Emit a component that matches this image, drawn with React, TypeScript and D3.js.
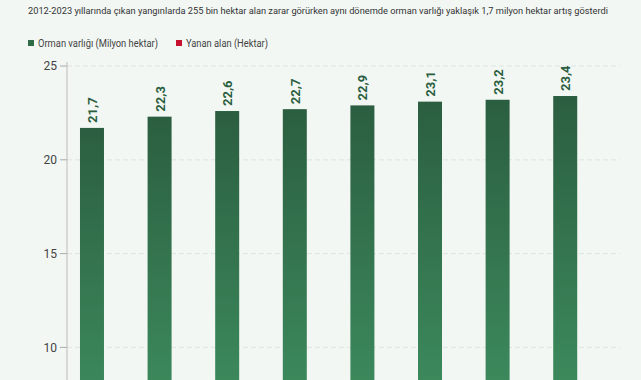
import React from "react";
import * as d3 from "d3";

const title =
  "2012-2023 yıllarında çıkan yangınlarda 255 bin hektar alan zarar görürken aynı dönemde orman varlığı yaklaşık 1,7 milyon hektar artış gösterdi";
const years = ["2016", "2017", "2018", "2019", "2020", "2021", "2022", "2023"];
const forest = [21.7, 22.3, 22.6, 22.7, 22.9, 23.1, 23.2, 23.4];
const yTicks = [10, 15, 20, 25];
const legendItems = [
  { label: "Orman varlığı (Milyon hektar)", color: "#2f6b47", x: 28, w: 120 },
  { label: "Yanan alan (Hektar)", color: "#c8102e", x: 176, w: 82 },
];

const W = 641;
const H = 380;
const FONT = "Roboto, 'Noto Sans', sans-serif";

export default function App() {
  const x = d3
    .scaleBand<string>()
    .domain(years)
    .range([67, 590.2])
    .paddingInner(0.645)
    .paddingOuter(0.192);
  const y = d3.scaleLinear().domain([0, 25]).range([535, 66]);
  const fmt = (v: number) => v.toFixed(1).replace(".", ",");
  return (
    <svg
      width={W}
      height={H}
      style={{ position: "fixed", left: 0, top: 0, background: "#f2f7f3" }}
    >
      <defs>
        <linearGradient id="barGrad" x1="0" y1="0" x2="0" y2="1">
          <stop offset="0" stopColor="#2b5e40" />
          <stop offset="1" stopColor="#45a06b" />
        </linearGradient>
      </defs>
      <rect width={W} height={H} fill="#f2f7f3" />
      <text
        x={28}
        y={14}
        fontFamily={FONT}
        fontSize={9.5}
        fill="#333"
        textLength={580}
        lengthAdjust="spacingAndGlyphs"
      >
        {title}
      </text>
      {legendItems.map((d) => (
        <g key={d.label} transform={`translate(${d.x},43)`}>
          <rect x={0} y={-3} width={6} height={6} fill={d.color} />
          <text
            x={10}
            y={3.5}
            fontFamily={FONT}
            fontSize={10}
            fill="#444"
            textLength={d.w}
            lengthAdjust="spacingAndGlyphs"
          >
            {d.label}
          </text>
        </g>
      ))}
      {yTicks.map((t) => (
        <g key={t} transform={`translate(0,${y(t)})`}>
          <line x1={67} x2={620} stroke="#dce5df" strokeDasharray="5,3" />
          <line x1={60} x2={67} stroke="#aaa" />
          <text x={57} dy="0.35em" textAnchor="end" fontFamily={FONT} fontSize={12} fill="#444">
            {t}
          </text>
        </g>
      ))}
      <line x1={67} x2={67} y1={62} y2={y(0)} stroke="#bbb" />
      {years.map((yr, i) => {
        const bx = x(yr)!;
        const bw = x.bandwidth();
        const top = y(forest[i]);
        return (
          <g key={yr}>
            <rect x={bx} y={top} width={bw} height={y(0) - top} fill="url(#barGrad)" />
            <text
              transform={`translate(${bx + bw / 2 + 5},${top - 5}) rotate(-90)`}
              fontFamily={FONT}
              fontSize={13}
              fontWeight={700}
              fill="#2b5e40"
            >
              {fmt(forest[i])}
            </text>
          </g>
        );
      })}
    </svg>
  );
}
